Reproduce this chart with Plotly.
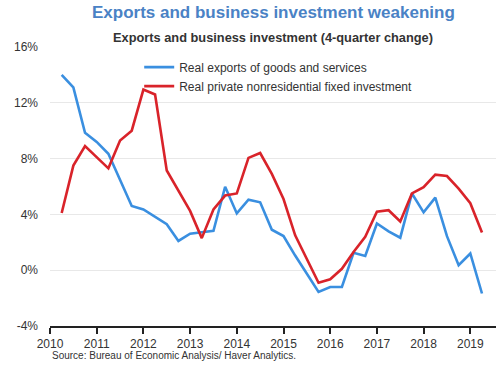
import plotly.graph_objects as go

quarters = ["2010Q2","2010Q3","2010Q4",
            "2011Q1","2011Q2","2011Q3","2011Q4",
            "2012Q1","2012Q2","2012Q3","2012Q4",
            "2013Q1","2013Q2","2013Q3","2013Q4",
            "2014Q1","2014Q2","2014Q3","2014Q4",
            "2015Q1","2015Q2","2015Q3","2015Q4",
            "2016Q1","2016Q2","2016Q3","2016Q4",
            "2017Q1","2017Q2","2017Q3","2017Q4",
            "2018Q1","2018Q2","2018Q3","2018Q4",
            "2019Q1","2019Q2"]

exports = [14.0, 13.1, 9.85,
           9.2, 8.35, 6.45, 4.6,
           4.35, 3.8, 3.3, 2.1,
           2.62, 2.72, 2.82, 5.98,
           4.07, 5.05, 4.87, 2.9,
           2.45, 1.05, -0.28, -1.56,
           -1.2, -1.2, 1.25, 1.02,
           3.35, 2.78, 2.33, 5.5,
           4.15, 5.2, 2.44, 0.36,
           1.2, -1.67]

investment = [4.1, 7.5, 8.9,
              8.1, 7.3, 9.3, 10.0,
              12.95, 12.6, 7.15, 5.7,
              4.25, 2.3, 4.35, 5.35,
              5.5, 8.05, 8.4, 6.9,
              5.1, 2.5, 0.75, -0.9,
              -0.65, 0.1, 1.3, 2.4,
              4.2, 4.3, 3.5, 5.5,
              5.95, 6.85, 6.75, 5.85,
              4.8, 2.7]

year_ticks = list(range(2010, 2020))
y_ticks = [-4, 0, 4, 8, 12, 16]
y_labels = ["-4%", "0%", "4%", "8%", "12%", "16%"]

x = [int(q[:4]) + (int(q[-1]) - 1) / 4 for q in quarters]

FONT = "Liberation Sans, Arial, sans-serif"

fig = go.Figure()
fig.add_trace(go.Scatter(x=x, y=exports, mode="lines",
                         name="Real exports of goods and services",
                         line=dict(color="#3a8fe0", width=2.6)))
fig.add_trace(go.Scatter(x=x, y=investment, mode="lines",
                         name="Real private nonresidential fixed investment",
                         line=dict(color="#d9232a", width=2.6)))

fig.update_layout(
    width=500, height=365, autosize=False,
    margin=dict(l=50, r=4, t=47, b=39, autoexpand=False),
    paper_bgcolor="white", plot_bgcolor="white",
    font=dict(family=FONT, size=12, color="#333333"),
    showlegend=True,
    legend=dict(x=0.2, y=0.98, xanchor="left", yanchor="top",
                bgcolor="rgba(0,0,0,0)", font=dict(size=12, color="#333333"),
                tracegroupgap=0, itemwidth=30),
    annotations=[
        dict(text="<b>Exports and business investment weakening</b>",
             xref="paper", yref="paper", x=0.5, y=1.0, yshift=35,
             xanchor="center", yanchor="middle", showarrow=False,
             font=dict(size=17, color="#4a82c5", family=FONT)),
        dict(text="<b>Exports and business investment (4-quarter change)</b>",
             xref="paper", yref="paper", x=0.5, y=1.0, yshift=10,
             xanchor="center", yanchor="middle", showarrow=False,
             font=dict(size=12.8, color="#333333", family=FONT)),
        dict(text="Source: Bureau of Economic Analysis/ Haver Analytics.",
             xref="paper", yref="paper", x=0, y=0, yshift=-29,
             xanchor="left", yanchor="middle", showarrow=False,
             font=dict(size=10, color="#333333", family=FONT)),
    ],
)

fig.update_xaxes(range=[2010, 2019.55], tickvals=year_ticks,
                 ticktext=[str(t) for t in year_ticks],
                 showgrid=False, zeroline=False, automargin=False,
                 showline=True, linecolor="#222222", linewidth=2,
                 ticks="outside", ticklen=6, tickwidth=1.5, tickcolor="#222222",
                 tickfont=dict(size=12, color="#333333"))
fig.update_yaxes(range=[-4, 16], tickvals=y_ticks, ticktext=y_labels,
                 showgrid=True, gridcolor="#e8e8e8", gridwidth=1,
                 zeroline=False, showline=False, ticks="", automargin=False,
                 ticklabelstandoff=11,
                 tickfont=dict(size=12, color="#333333"))

fig.write_html("out.html",
               config={"displayModeBar": False, "responsive": False},
               post_script="document.body.style.margin='0';")
